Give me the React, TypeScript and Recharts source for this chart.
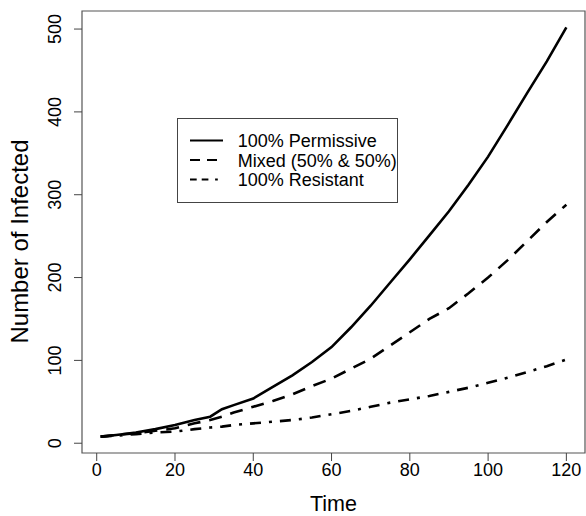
import React from 'react';
import { LineChart, Line, XAxis, YAxis, ReferenceArea, Legend } from 'recharts';

const times = [1, 5, 10, 15, 20, 25, 29, 32, 35, 40, 45, 50, 55, 60, 65, 70, 75, 80, 85, 90, 95, 100, 105, 110, 115, 120];
const permissive = [8, 10, 13, 17, 22, 28, 32, 41, 46, 54, 68, 82, 98, 116, 140, 166, 194, 222, 251, 280, 312, 346, 384, 423, 461, 502];
const mixed = [8, 10, 12, 15, 18, 24, 28, 32, 37, 44, 51, 59, 69, 78, 90, 102, 118, 134, 150, 163, 181, 200, 221, 244, 267, 288];
const resistant = [8, 9, 11, 13, 14, 17, 19, 20, 22, 24, 26, 28, 31, 35, 39, 44, 49, 53, 57, 62, 67, 73, 79, 86, 93, 101];

const seriesKeys = ['permissive', 'mixed', 'resistant'];
const seriesNames = ['100% Permissive', 'Mixed (50% & 50%)', '100% Resistant'];
const xTicks = [0, 20, 40, 60, 80, 100, 120];
const yTicks = [0, 100, 200, 300, 400, 500];
const xDomain: [number, number] = [-3.76, 124.76];
const yDomain: [number, number] = [-11.8, 521.8];

const data = times.map((t, i) => ({
  t,
  permissive: permissive[i],
  mixed: mixed[i],
  resistant: resistant[i],
}));

const FONT = '"Liberation Sans", Arial, sans-serif';
const legendDash: Record<string, string | undefined> = {
  permissive: undefined,
  mixed: '10 7',
  resistant: '6.7 5 6.7 6.7 2.7 20',
};

const YTick = (props: any) => {
  const { x, y, payload } = props;
  const bx = x - 13;
  return (
    <text
      x={bx}
      y={y}
      transform={`rotate(-90 ${bx} ${y})`}
      textAnchor="middle"
      fontSize={18}
      fontFamily={FONT}
      fill="#000"
    >
      {payload.value}
    </text>
  );
};

const YLabel = (props: any) => {
  const vb = props.viewBox || { x: 0, y: 11, width: 82, height: 442 };
  const cx = 28;
  const cy = vb.y + vb.height / 2 + 9.5;
  return (
    <text
      x={cx}
      y={cy}
      transform={`rotate(-90 ${cx} ${cy})`}
      textAnchor="middle"
      fontSize={24}
      fontFamily={FONT}
      fill="#000"
    >
      Number of Infected
    </text>
  );
};

const LegendBox = (props: any) => {
  const payload = [...(props.payload || [])].sort(
    (a: any, b: any) => seriesKeys.indexOf(a.dataKey) - seriesKeys.indexOf(b.dataKey)
  );
  const rows = [29, 48.5, 68];
  return (
    <svg width={221} height={85} style={{ display: 'block' }}>
      <rect x={0.5} y={0.5} width={220} height={84} fill="#fff" stroke="#444" strokeWidth={1} />
      {payload.map((entry: any, i: number) => {
        const key = entry.dataKey as string;
        return (
          <g key={key}>
            <line
              x1={13}
              x2={46}
              y1={rows[i] - 6.5}
              y2={rows[i] - 6.5}
              stroke="#000"
              strokeWidth={2}
              strokeDasharray={legendDash[key]}
            />
            <text x={60.7} y={rows[i]} fontSize={18} fontFamily={FONT} fill="#000">
              {entry.value}
            </text>
          </g>
        );
      })}
    </svg>
  );
};

export default function App() {
  return (
    <div style={{ position: 'absolute', left: 0, top: 0 }}>
      <LineChart width={586} height={516} data={data} margin={{ top: 11, right: 1, bottom: 0, left: 0 }}>
        <XAxis
          dataKey="t"
          type="number"
          domain={xDomain}
          ticks={xTicks}
          allowDataOverflow
          axisLine={false}
          tickLine={{ stroke: '#444', strokeWidth: 1 }}
          tickSize={8}
          tickMargin={2}
          height={63}
          tick={{ fontSize: 18, fontFamily: FONT, fill: '#000' }}
          label={{ value: 'Time', position: 'insideBottom', offset: 5, fontSize: 21.5, fontFamily: FONT, fill: '#000' }}
        />
        <YAxis
          type="number"
          domain={yDomain}
          ticks={yTicks}
          allowDataOverflow
          axisLine={false}
          tickLine={{ stroke: '#444', strokeWidth: 1 }}
          tickSize={8}
          tickMargin={0}
          width={82}
          tick={<YTick />}
          label={<YLabel />}
        />
        <ReferenceArea
          x1={xDomain[0]}
          x2={xDomain[1]}
          y1={yDomain[0]}
          y2={yDomain[1]}
          fill="none"
          fillOpacity={0}
          stroke="#555"
          strokeWidth={1.2}
          ifOverflow="visible"
        />
        <Line
          type="linear"
          dataKey="permissive"
          name={seriesNames[0]}
          stroke="#000"
          strokeWidth={2.6}
          dot={false}
          isAnimationActive={false}
        />
        <Line
          type="linear"
          dataKey="mixed"
          name={seriesNames[1]}
          stroke="#000"
          strokeWidth={2.6}
          strokeDasharray="13 9"
          dot={false}
          isAnimationActive={false}
        />
        <Line
          type="linear"
          dataKey="resistant"
          name={seriesNames[2]}
          stroke="#000"
          strokeWidth={2.6}
          strokeDasharray="11 8 3 8"
          dot={false}
          isAnimationActive={false}
        />
        <Legend
          layout="horizontal"
          verticalAlign="middle"
          align="center"
          content={<LegendBox />}
          wrapperStyle={{ position: 'absolute', left: 177, top: 118, width: 221, height: 85 }}
        />
      </LineChart>
    </div>
  );
}
